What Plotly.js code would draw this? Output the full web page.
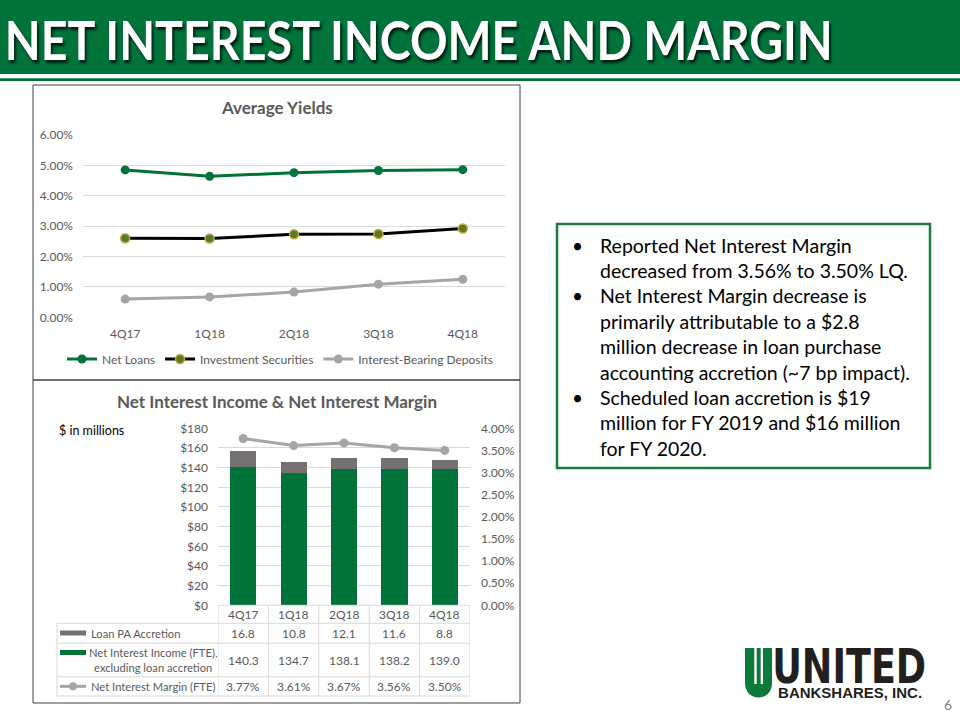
<!DOCTYPE html>
<html><head><meta charset="utf-8">
<script src="https://cdn.plot.ly/plotly-3.0.1.min.js"></script>
<style>html,body{margin:0;padding:0;background:#fff;overflow:hidden}#chart{width:960px;height:720px}</style>
</head><body><div id="chart"></div>
<script>
// ---------- data ----------
const quarters = ['4Q17', '1Q18', '2Q18', '3Q18', '4Q18'];
const netLoansYield = [0.0485, 0.0464, 0.0476, 0.0483, 0.0486];
const investmentYield = [0.0260, 0.0259, 0.0273, 0.0274, 0.0292];
const depositsYield = [0.0060, 0.0067, 0.0083, 0.0109, 0.0125];
const loanPAAccretion = [16.8, 10.8, 12.1, 11.6, 8.8];
const netInterestIncomeEx = [140.3, 134.7, 138.1, 138.2, 139.0];
const netInterestMargin = [0.0377, 0.0361, 0.0367, 0.0356, 0.0350];
const tableRowLabels = ['Loan PA Accretion', 'Net Interest Income (FTE),<br>excluding loan accretion', 'Net Interest Margin (FTE)'];
const bulletLines = [
  ['Reported Net Interest Margin', true],
  ['decreased from 3.56% to 3.50% LQ.', false],
  ['Net Interest Margin decrease is', true],
  ['primarily attributable to a $2.8', false],
  ['million decrease in loan purchase', false],
  ['accounting accretion (~7 bp impact).', false],
  ['Scheduled loan accretion is $19', true],
  ['million for FY 2019 and $16 million', false],
  ['for FY 2020.', false]
];
const headerTitle = 'NET INTEREST INCOME AND MARGIN';

// ---------- helpers ----------
const W = 960, H = 720;
const X = p => p / W;
const Y = p => 1 - p / H;
const FONT = 'Lato, "Open Sans", sans-serif';
const GREEN = '#00733B';
const TXT = '#595959';
const GRID = '#D9D9D9';

const shapes = [];
const annotations = [];
const fitWidths = {}; // text -> target px width (condensed fonts are not installed)
function rect(x0, y0, x1, y1, fill, line, lw) {
  shapes.push({type: 'rect', xref: 'paper', yref: 'paper', x0: X(x0), x1: X(x1), y0: Y(y1), y1: Y(y0),
    fillcolor: fill || 'rgba(0,0,0,0)', line: {color: line || 'rgba(0,0,0,0)', width: lw || 0}});
}
function hline(x0, x1, y, color, w, xref) {
  shapes.push({type: 'line', xref: xref || 'paper', yref: 'paper', x0: x0, x1: x1, y0: Y(y), y1: Y(y), line: {color: color, width: w}});
}
function vline(x, y0, y1, color, w, xref) {
  shapes.push({type: 'line', xref: xref || 'paper', yref: 'paper', x0: x, x1: x, y0: Y(y0), y1: Y(y1), line: {color: color, width: w}});
}
function text(t, x, y, font, xanchor, extra) {
  annotations.push(Object.assign({text: t, xref: 'paper', yref: 'paper', x: X(x), y: Y(y), showarrow: false,
    xanchor: xanchor || 'center', yanchor: 'middle', font: font}, extra || {}));
}

// ---------- header ----------
rect(0, 0, 960, 74, GREEN);
rect(0, 78.3, 960, 81, GREEN);
// centred on the reference text's span (5..832); glyphs are condensed to that width after render
text(headerTitle, 418.5, 39,
  {family: FONT, size: 53, color: '#FFFFFF', weight: 700, shadow: '2px 3px 3px rgba(0,0,0,0.75)'}, 'center');
fitWidths[headerTitle] = 828;

// ---------- chart boxes ----------
rect(33, 85, 520, 380, null, '#404040', 1);
rect(33, 380, 520, 703, null, '#404040', 1);

text('<b>Average Yields</b>', 276.5, 107, {family: FONT, size: 17, color: TXT});
text('<b>Net Interest Income &amp; Net Interest Margin</b>', 276.5, 401, {family: FONT, size: 17, color: TXT});
text('$ in millions', 57, 430, {family: FONT, size: 12.5, color: '#000000'}, 'left');

// ---------- table (below bar chart) ----------
const tb = {top: 605.3, r1: 623.3, r2: 643.3, r3: 676.7, bottom: 696, left: 57};
hline(-0.5, 4.5, tb.top, GRID, 1, 'x2');
[tb.r1, tb.r2, tb.r3, tb.bottom].forEach(y => hline(X(tb.left), X(470), y, GRID, 1));
vline(X(tb.left), tb.r1, tb.bottom, GRID, 1);
for (let i = 0; i <= quarters.length; i++) vline(i - 0.5, tb.top, tb.bottom, GRID, 1, 'x2');

const rowY = [(tb.r1 + tb.r2) / 2, (tb.r2 + tb.r3) / 2, (tb.r3 + tb.bottom) / 2];
function cell(t, i, y) {
  annotations.push({text: t, xref: 'x2', yref: 'paper', x: i, y: Y(y), showarrow: false,
    yanchor: 'middle', font: {family: FONT, size: 12, color: TXT}});
}
quarters.forEach((q, i) => {
  cell(q, i, (tb.top + tb.r1) / 2);
  cell(loanPAAccretion[i].toFixed(1), i, rowY[0]);
  cell(netInterestIncomeEx[i].toFixed(1), i, rowY[1]);
  cell((netInterestMargin[i] * 100).toFixed(2) + '%', i, rowY[2]);
});
const LBL = {family: FONT, size: 11.2, color: TXT};
text(tableRowLabels[0], 89, rowY[0], LBL, 'left');
text(tableRowLabels[1], 152.5, rowY[1], LBL, 'center', {align: 'center'});
text(tableRowLabels[2], 89, rowY[2], LBL, 'left');
// legend keys inside table
rect(60, 630.5, 86, 635.5, '#767171');
rect(60, 650, 86, 655, GREEN);
hline(X(60), X(86), rowY[2], '#A5A5A5', 3);
shapes.push({type: 'circle', xref: 'paper', yref: 'paper', x0: X(69), x1: X(77), y0: Y(rowY[2] + 4), y1: Y(rowY[2] - 4),
  fillcolor: '#A5A5A5', line: {color: '#A5A5A5', width: 0}});

// ---------- bullet text box ----------
rect(557, 224, 930, 468, null, '#1E7B3E', 2.5);
const lineY0 = 245, lineStep = 25.4;
bulletLines.forEach((l, i) => {
  const y = lineY0 + i * lineStep;
  if (l[1]) text('•', 577, y, {family: FONT, size: 19, color: '#000'}, 'center');
  text(l[0], 598, y, {family: FONT, size: 19.5, color: '#000'}, 'left');
});

// ---------- logo ----------
const emb = 'M' + X(745) + ',' + Y(648) + ' L' + X(772) + ',' + Y(648) + ' L' + X(772) + ',' + Y(683) +
  ' C' + X(772) + ',' + Y(692) + ' ' + X(766) + ',' + Y(697.5) + ' ' + X(758.5) + ',' + Y(697.5) +
  ' C' + X(751) + ',' + Y(697.5) + ' ' + X(745) + ',' + Y(692) + ' ' + X(745) + ',' + Y(683) + ' Z';
shapes.push({type: 'path', xref: 'paper', yref: 'paper', path: emb, fillcolor: '#0B7A3A', line: {width: 0}});
rect(754.3, 648, 756.7, 684, '#FFFFFF');
rect(760.7, 648, 763, 684, '#FFFFFF');
text('UNITED', 848.5, 666, {family: '"DejaVu Sans", sans-serif', size: 48, color: '#231F20', weight: 700}, 'center');
fitWidths['UNITED'] = 154;
text('BANKSHARES, INC.', 849.5, 692, {family: '"Liberation Sans", sans-serif', size: 15, color: '#231F20', weight: 700}, 'center');
fitWidths['BANKSHARES, INC.'] = 144;
text('6', 948, 704, {family: FONT, size: 14, color: '#7F7F7F'}, 'center');

// ---------- traces ----------
const traces = [
  {type: 'scatter', mode: 'lines+markers', name: 'Net Loans', x: quarters, y: netLoansYield, xaxis: 'x', yaxis: 'y',
   line: {color: GREEN, width: 3}, marker: {size: 9, color: GREEN}},
  {type: 'scatter', mode: 'lines+markers', name: 'Investment Securities', x: quarters, y: investmentYield, xaxis: 'x', yaxis: 'y',
   line: {color: '#000000', width: 3}, marker: {size: 9, color: '#4E7F2A', line: {color: '#D4A03A', width: 1.5}}},
  {type: 'scatter', mode: 'lines+markers', name: 'Interest-Bearing Deposits', x: quarters, y: depositsYield, xaxis: 'x', yaxis: 'y',
   line: {color: '#A5A5A5', width: 3}, marker: {size: 9, color: '#A5A5A5'}},
  {type: 'bar', name: 'Net Interest Income (FTE), excluding loan accretion', x: quarters, y: netInterestIncomeEx,
   xaxis: 'x2', yaxis: 'y2', marker: {color: GREEN}, showlegend: false, hoverinfo: 'skip'},
  {type: 'bar', name: 'Loan PA Accretion', x: quarters, y: loanPAAccretion,
   xaxis: 'x2', yaxis: 'y2', marker: {color: '#767171'}, showlegend: false, hoverinfo: 'skip'},
  {type: 'scatter', mode: 'lines+markers', name: 'Net Interest Margin (FTE)', x: quarters, y: netInterestMargin,
   xaxis: 'x2', yaxis: 'y3', line: {color: '#A5A5A5', width: 3}, marker: {size: 9, color: '#A5A5A5'}, showlegend: false}
];

const layout = {
  width: W, height: H, margin: {l: 0, r: 0, t: 0, b: 0}, paper_bgcolor: '#FFFFFF', plot_bgcolor: 'rgba(0,0,0,0)',
  font: {family: FONT, size: 12, color: TXT},
  showlegend: true,
  barmode: 'stack', bargap: 0.48,
  xaxis: {domain: [X(83), X(505)], type: 'category', range: [-0.5, 4.5], showgrid: false, zeroline: false, showline: false,
    ticks: '', ticklabelstandoff: 8, tickfont: {size: 12, color: TXT}, anchor: 'y', fixedrange: true},
  yaxis: {domain: [Y(317.3), Y(135)], range: [0, 0.06], dtick: 0.01, tickformat: '.2%', gridcolor: GRID, gridwidth: 1,
    zeroline: false, showline: false, ticks: '', ticklabelstandoff: 9, tickfont: {size: 12, color: TXT}, anchor: 'x', fixedrange: true},
  xaxis2: {domain: [X(218), X(470)], type: 'category', range: [-0.5, 4.5], showgrid: false, zeroline: false, showline: false,
    showticklabels: false, ticks: '', anchor: 'y2', fixedrange: true},
  yaxis2: {domain: [Y(605.3), Y(428.3)], range: [0, 180], dtick: 20, tickprefix: '$', gridcolor: GRID, gridwidth: 1,
    zeroline: false, showline: false, ticks: '', ticklabelstandoff: 9, tickfont: {size: 12, color: TXT}, anchor: 'x2', fixedrange: true},
  yaxis3: {domain: [Y(605.3), Y(428.3)], range: [0, 0.04], dtick: 0.005, tickformat: '.2%', overlaying: 'y2', side: 'right',
    showgrid: false, zeroline: false, showline: false, ticks: '', ticklabelstandoff: 10, tickfont: {size: 12, color: TXT}, anchor: 'x2', fixedrange: true},
  legend: {orientation: 'h', traceorder: 'normal', x: X(280), xanchor: 'center', y: Y(359), yanchor: 'middle', bgcolor: 'rgba(0,0,0,0)',
    font: {size: 12, color: TXT}, itemclick: false, itemdoubleclick: false},
  shapes: shapes,
  annotations: annotations
};

Plotly.newPlot('chart', traces, layout, {staticPlot: true, displayModeBar: false}).then(gd => {
  gd.querySelectorAll('.annotation-text').forEach(el => {
    const w = fitWidths[el.textContent];
    if (w) {
      el.setAttribute('textLength', w);
      el.setAttribute('lengthAdjust', 'spacingAndGlyphs');
    }
  });
});
</script>
</body></html>
